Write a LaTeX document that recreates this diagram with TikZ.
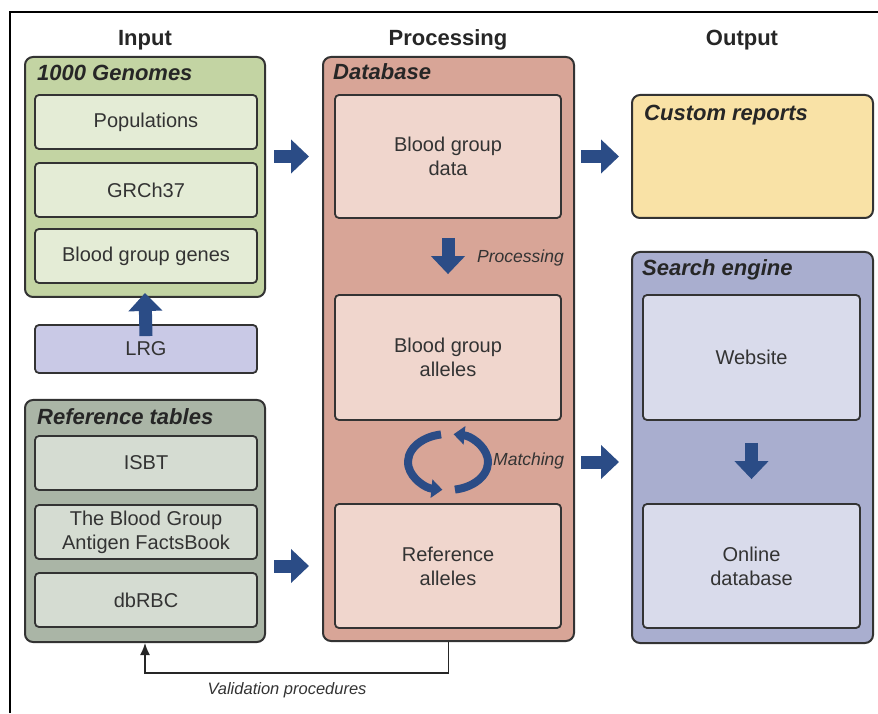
\documentclass[tikz,border=0pt]{standalone}
\usepackage{fontspec}
\setmainfont{Liberation Sans}
\usetikzlibrary{arrows.meta,calc}

\definecolor{genout}{HTML}{C3D4A3}
\definecolor{genin}{HTML}{E4ECD6}
\definecolor{lrgfill}{HTML}{C9C9E6}
\definecolor{refout}{HTML}{AAB5A6}
\definecolor{refin}{HTML}{D5DCD2}
\definecolor{dbout}{HTML}{D8A597}
\definecolor{dbin}{HTML}{F0D6CD}
\definecolor{customfill}{HTML}{F9E2A6}
\definecolor{searchout}{HTML}{A9AECF}
\definecolor{searchin}{HTML}{D9DBEB}
\definecolor{arrowblue}{HTML}{2B4C86}

\begin{document}
\begin{tikzpicture}[x=1pt,y=1pt,
		outerbox/.style={draw=black!80,line width=2pt,rounded corners=8pt,inner sep=0pt},
		innerbox/.style={draw=black!80,line width=1.8pt,rounded corners=4pt,inner sep=0pt,align=center,text=black!80,font=\fontsize{20}{24}\selectfont},
		leftbox/.style={innerbox,minimum width=222pt,minimum height=54pt},
		boxtitle/.style={anchor=base west,inner sep=0pt,text=black!85,font=\fontsize{22}{26}\selectfont\bfseries\itshape},
		header/.style={text=black!85,font=\fontsize{22}{26}\selectfont\bfseries},
		steplabel/.style={anchor=west,inner sep=0pt,text=black!80,font=\fontsize{17.5}{20}\selectfont\itshape},
		fatarrow/.style={draw=arrowblue,line width=13pt,-{Triangle[width=33pt,length=18pt]}},
		cyclearrow/.style={draw=arrowblue,line width=8pt,-{Triangle[width=18pt,length=11pt]}}]
		\useasboundingbox (0,0) rectangle (878,713);
		\draw[line width=2pt] (10,0) -- (10,701) -- (878,701);
		\node[header] (input) at (145,673) {Input};
		\node[header] (processing) at (448,673) {Processing};
		\node[header] (output) at (742,673) {Output};

		\node[outerbox,fill=genout,minimum width=240pt,minimum height=240pt] (genomes) at (145,536) {};
		\node[boxtitle] (genomestitle) at ($(genomes.north west)+(13,-25)$) {1000 Genomes};
		\node[leftbox,fill=genin] (pop) at (146,591) {Populations};
		\node[leftbox,fill=genin] (grch) at (146,523) {GRCh37};
		\node[leftbox,fill=genin] (genes) at (146,457) {Blood group genes};
		\node[leftbox,fill=lrgfill,minimum height=48pt] (lrg) at (146,364) {LRG};
		\draw[fatarrow] ($(lrg.north)+(0,-12)$) -- ($(genomes.south)+(0,5)$);

		\node[outerbox,fill=refout,minimum width=240pt,minimum height=242pt] (reftab) at (145,192) {};
		\node[boxtitle] (reftabtitle) at ($(reftab.north west)+(13,-26)$) {Reference tables};
		\node[leftbox,fill=refin] (isbt) at (146,250) {ISBT};
		\node[leftbox,fill=refin] (factsbook) at (146,181) {The Blood Group\\Antigen FactsBook};
		\node[leftbox,fill=refin] (dbrbc) at (146,113) {dbRBC};

		\node[outerbox,fill=dbout,minimum width=251pt,minimum height=584pt] (database) at (448.5,364) {};
		\node[boxtitle] (databasetitle) at ($(database.north west)+(11,-24)$) {Database};
		\node[innerbox,fill=dbin,minimum width=226pt,minimum height=123pt] (dbdata) at (448,556.5) {Blood group\\data};
		\node[innerbox,fill=dbin,minimum width=226pt,minimum height=125pt] (bgall) at (448,355.5) {Blood group\\alleles};
		\node[innerbox,fill=dbin,minimum width=226pt,minimum height=124pt] (refall) at (448,147) {Reference\\alleles};
		\draw[fatarrow] ($(dbdata.south)+(0,-19)$) -- ($(bgall.north)+(0,20)$);
		\node[steplabel] (proclabel) at (477,455) {Processing};
		\coordinate (cycle) at (448,251);
		\draw[cyclearrow] ($(cycle)+(100:40pt and 28pt)$) arc[start angle=100,end angle=262,x radius=40,y radius=28];
		\draw[cyclearrow] ($(cycle)+(280:40pt and 28pt)$) arc[start angle=280,end angle=442,x radius=40,y radius=28];
		\node[steplabel] (matchlabel) at (493,252) {Matching};

		\node[outerbox,fill=customfill,minimum width=241pt,minimum height=123pt] (custom) at (752.5,556.5) {};
		\node[boxtitle] (customtitle) at ($(custom.north west)+(13,-27)$) {Custom reports};
		\node[outerbox,fill=searchout,minimum width=241pt,minimum height=391pt] (search) at (752.5,265.5) {};
		\node[boxtitle] (searchtitle) at ($(search.north west)+(11,-25)$) {Search engine};
		\node[innerbox,fill=searchin,minimum width=217pt,minimum height=125pt] (website) at (751.5,355.5) {Website};
		\node[innerbox,fill=searchin,minimum width=217pt,minimum height=124pt] (onlinedb) at (751.5,147) {Online\\database};
		\draw[fatarrow] ($(website.south)+(0,-22)$) -- ($(onlinedb.north)+(0,24)$);

		\draw[fatarrow] ($(genomes.east |- dbdata)+(8,0)$) -- ($(database.west |- dbdata)+(-13,0)$);
		\draw[fatarrow] ($(reftab.east |- refall)+(8,0)$) -- ($(database.west |- refall)+(-13,0)$);
		\draw[fatarrow] ($(database.east |- dbdata)+(6,0)$) -- ($(custom.west |- dbdata)+(-12,0)$);
		\draw[fatarrow] ($(database.east |- cycle)+(6,0)$) -- ($(search.west |- cycle)+(-12,0)$);

		\draw[line width=1.5pt,draw=black!85,-{Latex[length=12pt,width=10pt]}] (database.south) -- ++(0,-31) -| (reftab.south);
		\node[steplabel,anchor=center,font=\fontsize{16.5}{20}\selectfont\itshape] (validation) at (287,23) {Validation procedures};
\end{tikzpicture}
\end{document}
